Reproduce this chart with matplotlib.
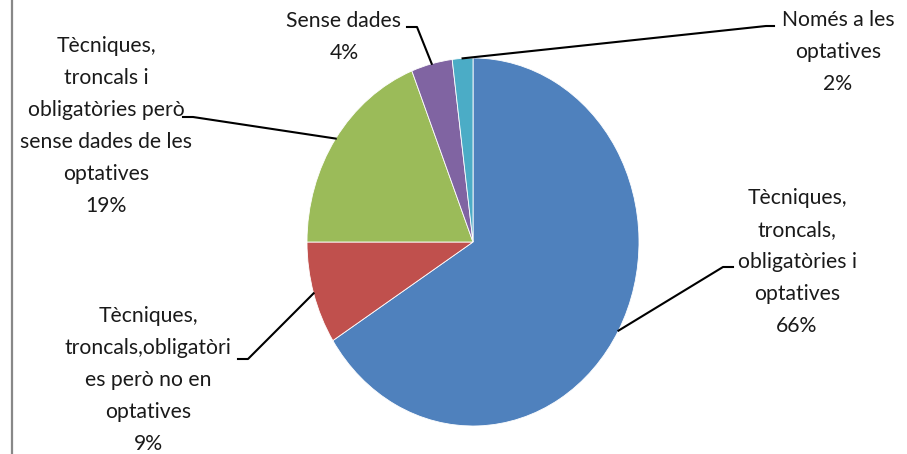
import numpy as np
import matplotlib
matplotlib.use("Agg")
import matplotlib.pyplot as plt

plt.rcParams['font.family'] = ['Lato', 'DejaVu Sans']

# ── dades ─────────────────────────────────────────────────────────────
labels = [
    "Tècniques,\ntroncals,\nobligatòries i\noptatives",
    "Tècniques,\ntroncals,obligatòri\nes però no en\noptatives",
    "Tècniques,\ntroncals i\nobligatòries però\nsense dades de les\noptatives",
    "Sense dades",
    "Només a les\noptatives",
]
values = [66, 9, 19, 4, 2]
colors = ["#4F81BD", "#C0504D", "#9BBB59", "#8064A2", "#4BACC6"]

# ── geometria (pixels, origen a dalt a l'esquerra) ───────────────────
W, H = 907, 454
CX, CY, RX, RY = 473, 242, 166, 184

# posició del text (centre del bloc) i colzes de la línia guia
text_pos = [(797, 262), (148, 380), (106, 126), (344, 37), (838, 52)]
elbows = [
    [(723, 267), (733, 267)],
    [(248, 359), (238, 359)],
    [(193, 117), (183, 117)],
    [(417, 27), (407, 27)],
    [(766, 26), (774, 26)],
]

def px2data(x, y):
    return (x - CX) / RX, (CY - y) / RY

fig = plt.figure(figsize=(W / 100, H / 100), dpi=100)
ax = fig.add_axes([(CX - RX) / W, (H - CY - RY) / H, 2 * RX / W, 2 * RY / H])

wedges, _ = ax.pie(values, colors=colors, startangle=90, counterclock=False,
                   radius=1, wedgeprops=dict(linewidth=0.6, edgecolor="white"))
ax.set_aspect("auto")
ax.set_xlim(-1, 1); ax.set_ylim(-1, 1)
ax.axis("off")

for w, lab, v, tp, elb in zip(wedges, labels, values, text_pos, elbows):
    th = np.deg2rad((w.theta1 + w.theta2) / 2)
    pts = [(np.cos(th), np.sin(th))] + [px2data(*p) for p in elb]
    xs, ys = zip(*pts)
    ax.plot(xs, ys, color="black", lw=1.5, clip_on=False)
    fig.text(tp[0] / W, 1 - tp[1] / H, f"{lab}\n{v}%", ha="center", va="center",
             fontsize=15.2, color="#1a1a1a", linespacing=1.74)

# vora grisa de l'esquerra
fig.add_artist(plt.Line2D([12 / W, 12 / W], [0, 1], color="#888888", lw=1.6))

fig.savefig("out.png", dpi=100)
